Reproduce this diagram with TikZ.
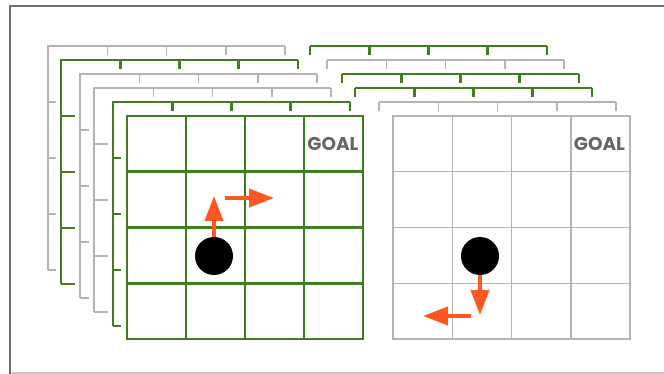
\documentclass[tikz,border=0pt]{standalone}
\usepackage{fontspec}
\usepackage{tikz}
\usetikzlibrary{arrows.meta,positioning,calc}
\newfontfamily\goalfont{Poppins}
\definecolor{gridgreen}{HTML}{3F7D20}
\definecolor{gridgray}{HTML}{B4B4B4}
\definecolor{moveorange}{HTML}{FF5722}
\definecolor{framegray}{HTML}{6E6E6E}
\definecolor{goalgray}{HTML}{666666}

\begin{document}
\begin{tikzpicture}[
  x=1pt, y=-1pt,
  greenline/.style={draw=gridgreen, line width=2.9pt},
  grayline/.style={draw=gridgray, line width=1.5pt},
  goal/.style={font=\goalfont\bfseries\fontsize{18.5}{18.5}\selectfont, text=goalgray, inner sep=0pt},
  agent/.style={circle, fill=black, minimum size=38pt, inner sep=0pt},
  movearr/.style={draw=moveorange, line width=4pt, -{Triangle[length=25pt,width=18pt]}}
]
\useasboundingbox (0,0) rectangle (664,374);
\draw[framegray, line width=2pt] (10,374) -- (10,6.5) -- (664,6.5);
\draw[gridgray!70, line width=1.5pt] (11,373) -- (664,373);
% stacked layers behind the left grid
\foreach \x/\y/\t/\s in {48/46/8/grayline, 61/60/14/greenline, 80/74/9/grayline, 94/88/14/grayline, 113/102/8/greenline}{
  \draw[\s] (\x,\y+224) -- (\x,\y) -- (\x+237,\y);
  \foreach \k in {1,...,4}{
    \draw[\s] (\x+59.25*\k,\y) -- ++(0,9);
    \draw[\s] (\x,\y+56*\k) -- ++(\t,0);
  }
}
% stacked layers behind the right grid
\foreach \x/\y/\s in {310/46/greenline, 327/60/grayline, 342/74/greenline, 355/88/greenline, 379/102/grayline}{
  \draw[\s] (\x,\y) -- (\x+237,\y);
  \foreach \k in {0,...,4}{\draw[\s] (\x+59.25*\k,\y) -- ++(0,9);}
}
% front grids
\draw[greenline] (127,116) rectangle (363,339);
\draw[grayline] (393,116) rectangle (630,339);
\foreach \k in {1,2,3}{
  \draw[greenline] (127+59*\k,116) -- (127+59*\k,339);
  \draw[greenline] (127,116+55.75*\k) -- (363,116+55.75*\k);
  \draw[grayline] (393+59.25*\k,116) -- (393+59.25*\k,339);
  \draw[grayline] (393,116+55.75*\k) -- (630,116+55.75*\k);
}
\node[goal] (goalL) at (333,144) {GOAL};
\node[goal] (goalR) at (599.5,144) {GOAL};
\node[agent] (agentL) at (214,256) {};
\node[agent] (agentR) at (480,256) {};
\coordinate (upTip) at (214,196);
\coordinate (rightTail) at (225,198);
\coordinate (rightTip) at (274,198);
\coordinate (downTip) at (480,315);
\coordinate (leftTail) at (471,316);
\coordinate (leftTip) at (423,316);
\draw[movearr] (agentL.north) -- (upTip);
\draw[movearr] (rightTail) -- (rightTip);
\draw[movearr] (agentR.south) -- (downTip);
\draw[movearr] (leftTail) -- (leftTip);
\end{tikzpicture}
\end{document}
